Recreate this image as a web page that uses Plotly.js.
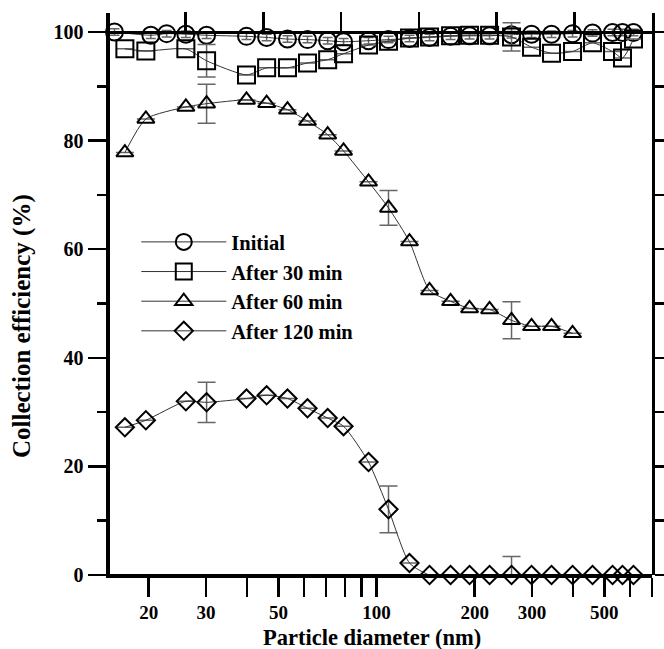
<!DOCTYPE html>
<html>
<head>
<meta charset="utf-8">
<script src="https://cdn.plot.ly/plotly-3.0.1.min.js"></script>
<style>html,body{margin:0;padding:0;background:#fff;}#chart{width:664px;height:649px;}</style>
</head>
<body>
<div id="chart"></div>
<script>
// ---- data ----
const seriesNames = ['Initial', 'After 30 min', 'After 60 min', 'After 120 min'];

const xInitial = [15.7, 20.3, 22.7, 26.0, 30.1, 39.9, 46.0, 53.3, 61.4, 70.8, 79.2, 94.5, 108.8, 126.2, 145.4, 168.7, 192.9, 222.2, 259.5, 298.9, 344.2, 399.3, 459.8, 529.6, 568.3, 614.2];
const yInitial = [100.0, 99.4, 99.7, 99.6, 99.4, 99.2, 99.0, 98.7, 98.6, 98.4, 98.2, 98.4, 98.6, 98.8, 99.0, 99.2, 99.3, 99.3, 99.5, 99.6, 99.6, 99.7, 99.8, 99.9, 99.9, 99.9];
const eInitial = [0.6, 0.6, 0.6, 0.6, 0.6, 0.6, 0.6, 0.6, 0.6, 0.6, 0.6, 0.6, 0.6, 0.6, 0.6, 0.6, 0.6, 0.6, 0.6, 0.6, 0.6, 0.6, 0.6, 0.6, 0.6, 0.6];

const x30 = [16.9, 19.6, 26.0, 30.1, 39.9, 46.0, 53.3, 61.4, 70.8, 79.2, 94.5, 108.8, 126.2, 145.4, 168.7, 192.9, 222.2, 259.5, 298.9, 344.2, 399.3, 459.8, 529.6, 568.3, 614.2];
const y30 = [96.9, 96.5, 96.9, 94.7, 92.1, 93.4, 93.4, 94.3, 94.9, 96.0, 97.6, 98.3, 98.9, 99.1, 99.3, 99.4, 99.4, 99.1, 97.2, 96.1, 96.4, 98.0, 96.4, 95.2, 98.7];
const e30 = [0, 0, 0, 3.0, 0, 0, 0, 0, 0, 0, 0, 0, 0, 0, 0, 0, 0, 2.6, 0, 0, 0, 0, 0, 0, 0];

const x60 = [16.9, 19.6, 26.0, 30.1, 39.9, 46.0, 53.3, 61.4, 70.8, 79.2, 94.5, 108.8, 126.2, 145.4, 168.7, 192.9, 222.2, 259.5, 298.9, 344.2, 399.3];
const y60 = [77.8, 84.0, 86.2, 86.8, 87.5, 86.9, 85.7, 83.6, 81.1, 78.1, 72.4, 67.6, 61.4, 52.4, 50.4, 49.1, 48.9, 46.9, 45.8, 45.8, 44.5];
const e60 = [0, 0, 0, 3.6, 0, 0, 0, 0, 0, 0, 0, 3.2, 0, 0, 0, 0, 0, 3.4, 0, 0, 0];

const x120 = [16.9, 19.6, 26.0, 30.1, 39.9, 46.0, 53.3, 61.4, 70.8, 79.2, 94.5, 108.8, 126.2, 145.4, 168.7, 192.9, 222.2, 259.5, 298.9, 344.2, 399.3, 459.8, 529.6, 568.3, 614.2];
const y120 = [27.2, 28.5, 32.0, 31.8, 32.5, 33.1, 32.5, 30.7, 28.9, 27.4, 20.8, 12.1, 2.2, 0, 0, 0, 0, 0, 0, 0, 0, 0, 0, 0, 0];
const e120 = [0, 0, 0, 3.7, 0, 0, 0, 0, 0, 0, 0, 4.3, 0, 0, 0, 0, 0, 3.4, 0, 0, 0, 0, 0, 0, 0];

const xTickVals = [20, 30, 40, 50, 60, 70, 80, 90, 100, 200, 300, 400, 500, 600, 700];
const xTickText = ['20', '30', '', '50', '', '', '', '', '100', '200', '300', '', '500', '', ''];
const yTickVals = [0, 20, 40, 60, 80, 100];
const yTickText = ['0', '20', '40', '60', '80', '100'];
const yMinorVals = [10, 30, 50, 70, 90];
const topTickVals = [1, 2, 3, 4, 5, 6];

// ---- styling ----
const FONT = 'Liberation Serif, Times New Roman, serif';
const lineStyle = {color: '#333', width: 1, shape: 'spline', smoothing: 0.6};
const errStyle = (arr, w) => ({type: 'data', array: arr, visible: true, color: '#666', thickness: 1.5, width: w});

function mk(name, x, y, e, symbol, size, ew, grp) {
  return {
    type: 'scatter', mode: 'lines+markers', name: name, x: x, y: y,
    legendgroup: grp,
    line: lineStyle,
    marker: {symbol: symbol, size: size, color: 'black', line: {width: 2, color: 'black'}},
    error_y: errStyle(e, ew),
    cliponaxis: false
  };
}

const yMax = 103.5;
const traces = [
  // invisible helpers so the frame axes are created
  {type: 'scatter', mode: 'none', x: topTickVals, y: yTickVals, xaxis: 'x2', yaxis: 'y2',
   showlegend: false, hoverinfo: 'skip'},
  {type: 'scatter', mode: 'none', x: topTickVals, y: yTickVals, xaxis: 'x3', yaxis: 'y3',
   showlegend: false, hoverinfo: 'skip'},
  mk(seriesNames[0], xInitial, yInitial, eInitial, 'circle-open', 17, 5, 'g1'),
  mk(seriesNames[1], x30, y30, e30, 'square-open', 17, 9, 'g2'),
  mk(seriesNames[2], x60, y60, e60, 'triangle-up-open', 15, 9, 'g3'),
  mk(seriesNames[3], x120, y120, e120, 'diamond-open', 14, 9, 'g4')
];

const layout = {
  width: 664, height: 649,
  margin: {l: 108, r: 12, t: 13, b: 74},
  paper_bgcolor: '#fff', plot_bgcolor: 'rgba(0,0,0,0)',
  font: {family: FONT, color: '#000'},
  showlegend: true,
  legend: {
    x: 0.052, y: 0.628, xanchor: 'left', yanchor: 'top',
    bgcolor: 'rgba(0,0,0,0)', borderwidth: 0,
    font: {family: FONT, size: 20.5, color: '#000', weight: 'bold'},
    itemwidth: 85, tracegroupgap: 0, traceorder: 'normal'
  },
  xaxis: {
    type: 'log', range: [Math.log10(15), Math.log10(700)],
    domain: [0, 1], anchor: 'y',
    showline: true, linecolor: '#000', linewidth: 2.5,
    ticks: 'outside', ticklen: 19, tickwidth: 2.5, tickcolor: '#000',
    tickmode: 'array', tickvals: xTickVals, ticktext: xTickText,
    tickfont: {family: FONT, size: 19, weight: 'bold'},
    showgrid: false, zeroline: false
  },
  yaxis: {
    range: [0, yMax], domain: [0, 1], anchor: 'x',
    showline: true, linecolor: '#000', linewidth: 2.5,
    ticks: 'outside', ticklen: 18, tickwidth: 2.5, tickcolor: '#000',
    tickmode: 'array', tickvals: yTickVals, ticktext: yTickText,
    minor: {tickmode: 'array', tickvals: yMinorVals, ticks: 'outside', ticklen: 9, tickwidth: 2.5, tickcolor: '#000', showgrid: false},
    tickfont: {family: FONT, size: 20, weight: 'bold'},
    showgrid: false, zeroline: false
  },
  // top axis drawn at the 100 % level
  xaxis2: {
    domain: [0, 1], side: 'top', anchor: 'free', position: 100 / yMax,
    range: [0, 7],
    showline: true, linecolor: '#000', linewidth: 2.5,
    ticks: 'outside', ticklen: 19, tickwidth: 2.5, tickcolor: '#000',
    tickmode: 'array', tickvals: topTickVals,
    showticklabels: false, showgrid: false, zeroline: false
  },
  // right axis
  yaxis2: {
    domain: [0, 1], side: 'right', anchor: 'x2', range: [0, yMax],
    showline: true, linecolor: '#000', linewidth: 2.5,
    ticks: 'outside', ticklen: 12, tickwidth: 2.5, tickcolor: '#000',
    tickmode: 'linear', tick0: 0, dtick: 10,
    showticklabels: false, showgrid: false, zeroline: false
  },
  // free-positioned frame lines at the bottom and left edges
  xaxis3: {
    domain: [0, 1], side: 'bottom', anchor: 'free', position: 0, range: [0, 7],
    showline: true, linecolor: '#000', linewidth: 3,
    ticks: '', showticklabels: false, showgrid: false, zeroline: false
  },
  yaxis3: {
    domain: [0, 1], side: 'left', anchor: 'free', position: 0, range: [0, yMax],
    showline: true, linecolor: '#000', linewidth: 3,
    ticks: '', showticklabels: false, showgrid: false, zeroline: false
  },
  annotations: [
    {
      text: 'Collection efficiency (%)', textangle: -90,
      xref: 'paper', yref: 'paper', x: 0, y: 0.443, xanchor: 'center', yanchor: 'middle',
      xshift: -86, showarrow: false,
      font: {family: FONT, size: 25, weight: 'bold', color: '#000'}
    },
    {
      text: 'Particle diameter (nm)',
      xref: 'paper', yref: 'paper', x: 0.485, y: 0, xanchor: 'center', yanchor: 'middle',
      yshift: -62, showarrow: false,
      font: {family: FONT, size: 22.5, weight: 'bold', color: '#000'}
    }
  ]
};

Plotly.newPlot('chart', traces, layout, {displayModeBar: false, staticPlot: true});
</script>
</body>
</html>
